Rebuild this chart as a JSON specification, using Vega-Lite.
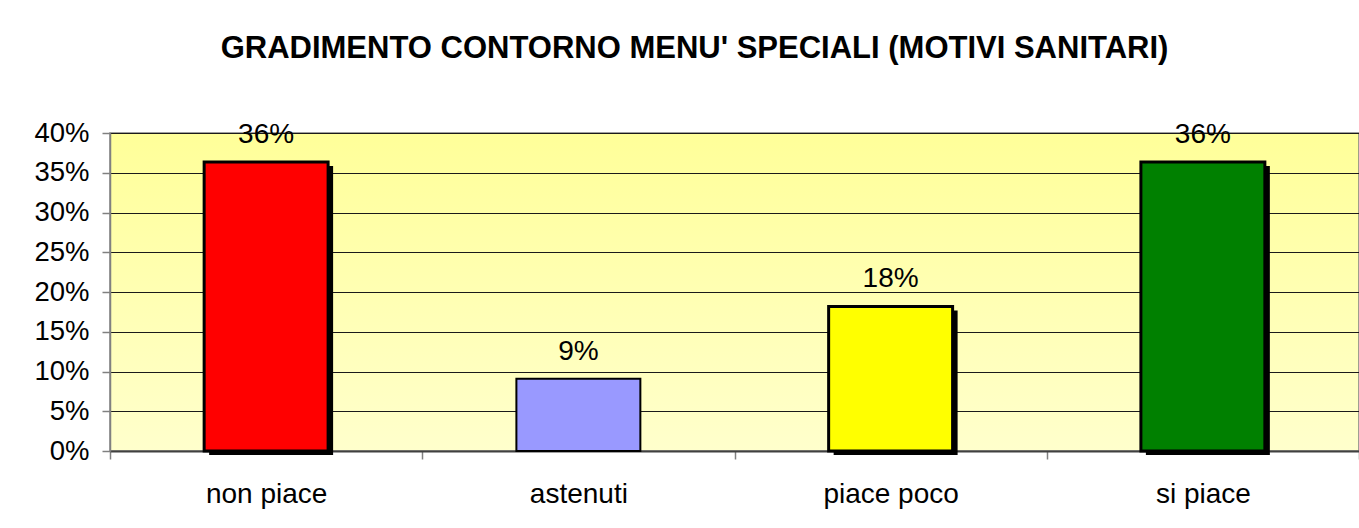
{
  "$schema": "https://vega.github.io/schema/vega-lite/v6.json",
  "width": 1249,
  "height": 318,
  "autosize": {"type": "none"},
  "padding": {"left": 110, "top": 133, "right": 0, "bottom": 77},
  "background": "#FFFFFF",
  "title": {
    "text": "GRADIMENTO CONTORNO MENU' SPECIALI (MOTIVI SANITARI)",
    "font": "Liberation Sans",
    "fontSize": 31,
    "fontWeight": "bold",
    "color": "#000000",
    "anchor": "middle",
    "frame": "group",
    "dx": -40,
    "offset": 30,
    "baseline": "alphabetic"
  },
  "data": {
    "values": [
      {"cat": "non piace", "pct": 0.3636},
      {"cat": "astenuti", "pct": 0.0909},
      {"cat": "piace poco", "pct": 0.1818},
      {"cat": "si piace", "pct": 0.3636}
    ]
  },
  "encoding": {
    "x": {
      "field": "cat",
      "type": "nominal",
      "sort": ["non piace", "astenuti", "piace poco", "si piace"],
      "scale": {"domain": ["non piace", "astenuti", "piace poco", "si piace"], "paddingInner": 0, "paddingOuter": 0},
      "axis": {
        "title": null,
        "labelAngle": 0,
        "labelFont": "Liberation Sans",
        "labelFontSize": 28,
        "labelColor": "#000000",
        "labelPadding": 21,
        "tickBand": "extent",
        "tickSize": 8,
        "tickColor": "#808080",
        "tickWidth": 1.5,
        "domainColor": "#404040",
        "domainWidth": 2,
        "grid": false
      }
    },
    "y": {
      "field": "pct",
      "type": "quantitative",
      "scale": {"domain": [0, 0.4], "nice": false},
      "axis": {
        "title": null,
        "values": [0, 0.05, 0.1, 0.15, 0.2, 0.25, 0.3, 0.35, 0.4],
        "format": ".0%",
        "labelFont": "Liberation Sans",
        "labelFontSize": 27.5,
        "labelColor": "#000000",
        "labelPadding": 13,
        "tickSize": 8,
        "tickColor": "#808080",
        "tickWidth": 1.5,
        "domainColor": "#808080",
        "domainWidth": 1.5,
        "grid": true,
        "gridColor": "#1a1a1a",
        "gridWidth": 1
      }
    }
  },
  "layer": [
    {
      "transform": [{"filter": "datum.cat !== 'astenuti'"}],
      "mark": {"type": "bar", "fill": "#000000", "width": {"band": 0.397}, "xOffset": 5, "yOffset": 4, "y2Offset": 0.01}
    },
    {
      "mark": {"type": "bar", "stroke": "#000000", "width": {"band": 0.397}},
      "encoding": {
        "color": {
          "field": "cat",
          "type": "nominal",
          "scale": {
            "domain": ["non piace", "astenuti", "piace poco", "si piace"],
            "range": ["#FF0000", "#9999FF", "#FFFF00", "#008000"]
          },
          "legend": null
        },
        "strokeWidth": {
          "condition": {"test": "datum.cat === 'astenuti'", "value": 2},
          "value": 3
        }
      }
    },
    {
      "mark": {
        "type": "text",
        "dy": -19,
        "baseline": "alphabetic",
        "font": "Liberation Sans",
        "fontSize": 28,
        "color": "#000000"
      },
      "encoding": {
        "text": {"field": "pct", "type": "quantitative", "format": ".0%"}
      }
    }
  ],
  "config": {
    "view": {
      "fill": {
        "gradient": "linear",
        "x1": 0, "y1": 0, "x2": 0, "y2": 1,
        "stops": [
          {"offset": 0, "color": "#FFFF99"},
          {"offset": 1, "color": "#FFFFCC"}
        ]
      },
      "stroke": "#808080",
      "strokeWidth": 1.5
    }
  }
}
